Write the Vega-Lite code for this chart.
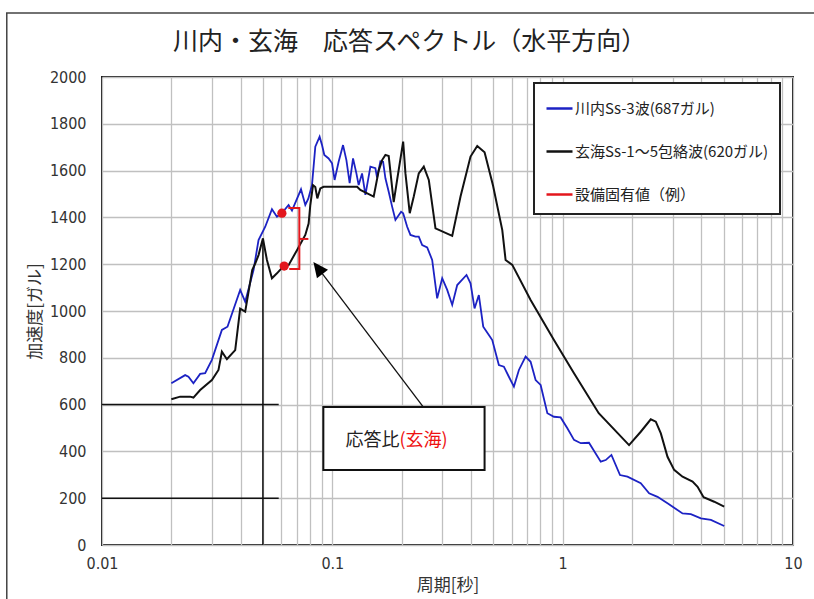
{
  "$schema": "https://vega.github.io/schema/vega-lite/v6.json",
  "width": 691,
  "height": 468,
  "autosize": {"type": "none"},
  "padding": {"left": 102, "top": 77, "right": 21, "bottom": 54},
  "background": "white",
  "title": {
    "text": "川内・玄海　応答スペクトル（水平方向）",
    "font": "Noto Sans CJK JP",
    "fontSize": 25,
    "fontWeight": "normal",
    "color": "#222222",
    "anchor": "middle",
    "frame": "group",
    "dx": -38,
    "offset": -43
  },
  "datasets": {
    "kawauchi": [
      {"period": 0.0200, "accel": 691}, {"period": 0.02296, "accel": 726}, {"period": 0.02373, "accel": 719},
      {"period": 0.02494, "accel": 691}, {"period": 0.02668, "accel": 731}, {"period": 0.02804, "accel": 734},
      {"period": 0.0300, "accel": 791}, {"period": 0.03315, "accel": 919}, {"period": 0.03506, "accel": 933},
      {"period": 0.0398, "accel": 1090}, {"period": 0.04185, "accel": 1040}, {"period": 0.04549, "accel": 1175},
      {"period": 0.04782, "accel": 1303}, {"period": 0.05113, "accel": 1360}, {"period": 0.05468, "accel": 1435},
      {"period": 0.05749, "accel": 1403}, {"period": 0.06043, "accel": 1418}, {"period": 0.06457, "accel": 1453},
      {"period": 0.06681, "accel": 1429}, {"period": 0.07311, "accel": 1520}, {"period": 0.07632, "accel": 1453},
      {"period": 0.07865, "accel": 1480}, {"period": 0.0816, "accel": 1538}, {"period": 0.08435, "accel": 1702},
      {"period": 0.08806, "accel": 1745}, {"period": 0.0902, "accel": 1709}, {"period": 0.0923, "accel": 1667},
      {"period": 0.09636, "accel": 1652}, {"period": 0.0997, "accel": 1631}, {"period": 0.1023, "accel": 1560},
      {"period": 0.1065, "accel": 1638}, {"period": 0.1113, "accel": 1709}, {"period": 0.1151, "accel": 1645},
      {"period": 0.1189, "accel": 1546}, {"period": 0.1230, "accel": 1652}, {"period": 0.1272, "accel": 1588},
      {"period": 0.1301, "accel": 1538}, {"period": 0.1346, "accel": 1588}, {"period": 0.1392, "accel": 1496},
      {"period": 0.1463, "accel": 1617}, {"period": 0.1538, "accel": 1610}, {"period": 0.1564, "accel": 1570},
      {"period": 0.1617, "accel": 1640}, {"period": 0.1661, "accel": 1638}, {"period": 0.1700, "accel": 1567},
      {"period": 0.1757, "accel": 1510}, {"period": 0.1818, "accel": 1446}, {"period": 0.1879, "accel": 1389},
      {"period": 0.1989, "accel": 1424}, {"period": 0.2030, "accel": 1418}, {"period": 0.2113, "accel": 1360},
      {"period": 0.2183, "accel": 1325}, {"period": 0.2296, "accel": 1318}, {"period": 0.2373, "accel": 1318},
      {"period": 0.2455, "accel": 1282}, {"period": 0.2581, "accel": 1272}, {"period": 0.2713, "accel": 1218},
      {"period": 0.2852, "accel": 1054}, {"period": 0.2999, "accel": 1140}, {"period": 0.3153, "accel": 1090},
      {"period": 0.3315, "accel": 1026}, {"period": 0.3485, "accel": 1111}, {"period": 0.3824, "accel": 1154},
      {"period": 0.3981, "accel": 1118}, {"period": 0.4144, "accel": 1011}, {"period": 0.4326, "accel": 1068},
      {"period": 0.4520, "accel": 933}, {"period": 0.4782, "accel": 897}, {"period": 0.4947, "accel": 876},
      {"period": 0.5284, "accel": 769}, {"period": 0.5556, "accel": 762}, {"period": 0.5841, "accel": 719},
      {"period": 0.6142, "accel": 677}, {"period": 0.6457, "accel": 748}, {"period": 0.6904, "accel": 805},
      {"period": 0.7258, "accel": 783}, {"period": 0.7631, "accel": 705}, {"period": 0.8023, "accel": 684},
      {"period": 0.8581, "accel": 563}, {"period": 0.9166, "accel": 548}, {"period": 0.980, "accel": 545},
      {"period": 1.048, "accel": 499}, {"period": 1.120, "accel": 449}, {"period": 1.198, "accel": 435},
      {"period": 1.301, "accel": 437}, {"period": 1.463, "accel": 356}, {"period": 1.538, "accel": 363},
      {"period": 1.628, "accel": 385}, {"period": 1.774, "accel": 299}, {"period": 1.911, "accel": 292},
      {"period": 2.183, "accel": 264}, {"period": 2.373, "accel": 221}, {"period": 2.581, "accel": 206},
      {"period": 2.852, "accel": 178}, {"period": 3.315, "accel": 135}, {"period": 3.602, "accel": 132},
      {"period": 3.981, "accel": 114}, {"period": 4.401, "accel": 107}, {"period": 5.026, "accel": 81}
    ],
    "genkai": [
      {"period": 0.0200, "accel": 623}, {"period": 0.02183, "accel": 634}, {"period": 0.02413, "accel": 634},
      {"period": 0.02494, "accel": 630}, {"period": 0.02668, "accel": 662}, {"period": 0.0300, "accel": 705},
      {"period": 0.03204, "accel": 748}, {"period": 0.03315, "accel": 826}, {"period": 0.03485, "accel": 794},
      {"period": 0.03787, "accel": 833}, {"period": 0.0398, "accel": 1010}, {"period": 0.04185, "accel": 997},
      {"period": 0.04489, "accel": 1175}, {"period": 0.04626, "accel": 1203}, {"period": 0.04782, "accel": 1239},
      {"period": 0.04995, "accel": 1310}, {"period": 0.05201, "accel": 1218}, {"period": 0.05468, "accel": 1140},
      {"period": 0.05749, "accel": 1161}, {"period": 0.06141, "accel": 1192}, {"period": 0.06457, "accel": 1196},
      {"period": 0.07023, "accel": 1260}, {"period": 0.07632, "accel": 1325}, {"period": 0.07889, "accel": 1374},
      {"period": 0.08023, "accel": 1453}, {"period": 0.08244, "accel": 1538}, {"period": 0.08435, "accel": 1530},
      {"period": 0.08606, "accel": 1481}, {"period": 0.08867, "accel": 1524}, {"period": 0.09167, "accel": 1531},
      {"period": 0.1281, "accel": 1531}, {"period": 0.1323, "accel": 1517}, {"period": 0.1512, "accel": 1489},
      {"period": 0.1590, "accel": 1600}, {"period": 0.1645, "accel": 1645}, {"period": 0.1700, "accel": 1667},
      {"period": 0.1757, "accel": 1662}, {"period": 0.1847, "accel": 1465}, {"period": 0.1911, "accel": 1560},
      {"period": 0.2030, "accel": 1724}, {"period": 0.2077, "accel": 1588}, {"period": 0.2168, "accel": 1418},
      {"period": 0.2257, "accel": 1489}, {"period": 0.2373, "accel": 1588}, {"period": 0.2495, "accel": 1617},
      {"period": 0.2623, "accel": 1560}, {"period": 0.2804, "accel": 1353}, {"period": 0.3315, "accel": 1321},
      {"period": 0.3602, "accel": 1489}, {"period": 0.3981, "accel": 1660}, {"period": 0.4257, "accel": 1705},
      {"period": 0.4581, "accel": 1678}, {"period": 0.4987, "accel": 1535}, {"period": 0.5468, "accel": 1346},
      {"period": 0.5652, "accel": 1218}, {"period": 0.6043, "accel": 1197}, {"period": 0.7258, "accel": 1047},
      {"period": 0.9166, "accel": 876}, {"period": 1.120, "accel": 734}, {"period": 1.434, "accel": 563},
      {"period": 1.942, "accel": 427}, {"period": 2.183, "accel": 484}, {"period": 2.413, "accel": 537},
      {"period": 2.537, "accel": 527}, {"period": 2.668, "accel": 477}, {"period": 2.852, "accel": 377},
      {"period": 3.048, "accel": 321}, {"period": 3.315, "accel": 292}, {"period": 3.664, "accel": 271},
      {"period": 3.853, "accel": 249}, {"period": 4.090, "accel": 204}, {"period": 4.549, "accel": 185},
      {"period": 5.026, "accel": 164}
    ],
    "bracket": [
      {"step": 1, "period": 0.0644, "accel": 1440},
      {"step": 2, "period": 0.0719, "accel": 1440},
      {"step": 3, "period": 0.0719, "accel": 1180},
      {"step": 4, "period": 0.0650, "accel": 1180}
    ]
  },
  "encoding": {
    "x": {
      "field": "period",
      "type": "quantitative",
      "scale": {"type": "log", "domain": [0.01, 10]},
      "axis": {
        "title": "周期[秒]",
        "values": [0.01, 0.02, 0.03, 0.04, 0.05, 0.06, 0.07, 0.08, 0.09, 0.1, 0.2, 0.3, 0.4, 0.5, 0.6, 0.7, 0.8, 0.9, 1, 2, 3, 4, 5, 6, 7, 8, 9, 10],
        "labelExpr": "datum.value == 0.01 ? '0.01' : datum.value == 0.1 ? '0.1' : datum.value == 1 ? '1' : datum.value == 10 ? '10' : ''",
        "labelOverlap": false,
        "labelFlush": false,
        "labelBound": false,
        "grid": true,
        "ticks": false,
        "domain": false,
        "labelPadding": 10,
        "titlePadding": 6
      }
    },
    "y": {
      "field": "accel",
      "type": "quantitative",
      "scale": {"domain": [0, 2000]},
      "axis": {
        "title": "加速度[ガル]",
        "values": [0, 200, 400, 600, 800, 1000, 1200, 1400, 1600, 1800, 2000],
        "format": "d",
        "grid": true,
        "ticks": false,
        "domain": false,
        "labelPadding": 16,
        "titlePadding": 5
      }
    }
  },
  "layer": [
    {
      "data": {"values": [{"period": 0.00386, "period2": 20, "accel": 2273, "accel2": -300}]},
      "mark": {"type": "rect", "filled": false, "stroke": "#444444", "strokeWidth": 1.5},
      "encoding": {"x2": {"field": "period2"}, "y2": {"field": "accel2"}}
    },
    {
      "data": {"values": [{"period": 0.01, "period2": 0.0585, "accel": 600}, {"period": 0.01, "period2": 0.0585, "accel": 200}]},
      "mark": {"type": "rule", "color": "#111111", "strokeWidth": 1.5},
      "encoding": {"x2": {"field": "period2"}}
    },
    {
      "data": {"values": [{"period": 0.04995, "accel": 0, "accel2": 1310}]},
      "mark": {"type": "rule", "color": "#111111", "strokeWidth": 1.5},
      "encoding": {"y2": {"field": "accel2"}}
    },
    {
      "data": {"name": "kawauchi"},
      "mark": {"type": "line", "strokeWidth": 1.8},
      "encoding": {
        "color": {
          "datum": "川内Ss-3波(687ガル)",
          "type": "nominal",
          "scale": {
            "domain": ["川内Ss-3波(687ガル)", "玄海Ss-1～5包絡波(620ガル)", "設備固有値（例）"],
            "range": ["#1c22c4", "#111111", "#e3161c"]
          }
        }
      }
    },
    {
      "data": {"name": "genkai"},
      "mark": {"type": "line", "strokeWidth": 2},
      "encoding": {"color": {"datum": "玄海Ss-1～5包絡波(620ガル)", "type": "nominal"}}
    },
    {
      "data": {"values": [{"period": 0.059}]},
      "mark": {"type": "rule", "strokeWidth": 3},
      "encoding": {
        "y": {"datum": 0},
        "y2": {"datum": 2000},
        "color": {"datum": "設備固有値（例）", "type": "nominal"}
      }
    },
    {
      "data": {"name": "bracket"},
      "mark": {"type": "line", "color": "#e3161c", "strokeWidth": 2},
      "encoding": {"order": {"field": "step", "type": "quantitative"}}
    },
    {
      "data": {"values": [{"period": 0.0719, "period2": 0.0787, "accel": 1308}]},
      "mark": {"type": "rule", "color": "#e3161c", "strokeWidth": 2},
      "encoding": {"x2": {"field": "period2"}}
    },
    {
      "data": {"values": [{"period": 0.0604, "accel": 1418}, {"period": 0.0618, "accel": 1192}]},
      "mark": {"type": "point", "filled": true, "color": "#e3161c", "size": 85, "opacity": 1}
    },
    {
      "data": {"values": [{"period": 0.0914, "period2": 0.4581, "accel": 590, "accel2": 321}]},
      "mark": {"type": "rect", "fill": "white", "stroke": "#111111", "strokeWidth": 2},
      "encoding": {"x2": {"field": "period2"}, "y2": {"field": "accel2"}}
    },
    {
      "data": {"values": [{"period": 0.1956, "accel": 443, "label": "応答比"}]},
      "mark": {"type": "text", "align": "right", "baseline": "middle", "font": "Noto Sans CJK JP", "fontSize": 18, "color": "#222222"},
      "encoding": {"text": {"field": "label"}}
    },
    {
      "data": {"values": [{"period": 0.1956, "accel": 443, "label": "(玄海)"}]},
      "mark": {"type": "text", "align": "left", "baseline": "middle", "font": "Noto Sans CJK JP", "fontSize": 18, "color": "#ee1111"},
      "encoding": {"text": {"field": "label"}}
    },
    {
      "data": {"values": [{"period": 0.248, "accel": 590}, {"period": 0.0866, "accel": 1184}]},
      "mark": {"type": "line", "color": "#111111", "strokeWidth": 1.3},
      "encoding": {}
    },
    {
      "data": {"values": [{"period": 0.0866, "accel": 1184}]},
      "mark": {"type": "point", "filled": true, "color": "#000000", "opacity": 1, "shape": "M0,-1L0.93,1L-0.93,1Z", "size": 225, "angle": 322.6}
    }
  ],
  "config": {
    "view": {"stroke": "#1a1a1a", "strokeWidth": 2},
    "axis": {
      "labelFont": "DejaVu Sans Condensed, Liberation Sans Narrow, Liberation Sans, sans-serif",
      "labelFontSize": 16,
      "labelColor": "#333333",
      "titleFont": "Noto Sans CJK JP",
      "titleFontSize": 17,
      "titleFontWeight": "normal",
      "titleColor": "#333333",
      "gridColor": "#c0c0c0",
      "gridWidth": 1.3
    },
    "legend": {
      "orient": "none",
      "legendX": 432,
      "legendY": 6,
      "title": null,
      "strokeColor": "#222222",
      "strokeWidth": 2,
      "fillColor": "white",
      "padding": 11,
      "rowPadding": 20,
      "symbolType": "stroke",
      "symbolSize": 676,
      "symbolStrokeWidth": 2.5,
      "labelFont": "Noto Sans CJK JP",
      "labelFontSize": 15,
      "labelColor": "#222222",
      "labelOffset": 1,
      "labelLimit": 400
    }
  }
}
